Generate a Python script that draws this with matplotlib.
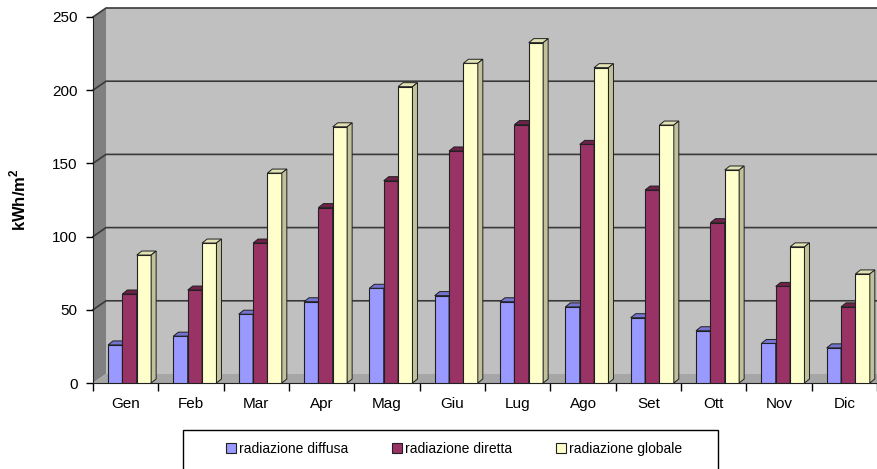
import matplotlib.pyplot as plt
from matplotlib.patches import Polygon, Rectangle, Patch

# dati mensili (kWh/m2)
mesi = ['Gen', 'Feb', 'Mar', 'Apr', 'Mag', 'Giu', 'Lug', 'Ago', 'Set', 'Ott', 'Nov', 'Dic']
diffusa = [26, 32, 47, 55.5, 64.7, 59.7, 55.5, 52, 44.6, 35.7, 27, 24]
diretta = [60.8, 63.5, 95.6, 119.8, 138.2, 158.5, 176.5, 163, 131.8, 109.5, 66, 52]
globale = [87.4, 95.6, 143.4, 175, 202.4, 218.4, 232.5, 215.4, 176.2, 145.5, 93, 74.5]
nomi = ['radiazione diffusa', 'radiazione diretta', 'radiazione globale']

plt.rcParams['font.family'] = ['Liberation Sans', 'DejaVu Sans']
plt.rcParams['mathtext.fontset'] = 'custom'
plt.rcParams['mathtext.bf'] = 'Liberation Sans:bold'

W, H = 878, 469
fig = plt.figure(figsize=(W / 100, H / 100), dpi=100)
ax = fig.add_axes([93 / W, (H - 383) / H, (877 - 93) / W, (383 - 17) / H])
ax.set_xlim(0, 12)
ax.set_ylim(0, 250)

ux = 12 / (877 - 93)   # unita' dati per pixel
uy = 250 / (383 - 17)
dx, dy = 13 * ux, 9 * uy      # profondita' pareti
bdx, bdy = 5 * ux, 4 * uy     # profondita' barre

# pareti e pavimento
ax.add_patch(Rectangle((dx, dy), 12, 250, facecolor='#c0c0c0', edgecolor='none',
                       clip_on=False, zorder=0))
ax.add_patch(Polygon([(0, 0), (dx, dy), (dx, 250 + dy), (0, 250)], closed=True,
                     facecolor='#808080', edgecolor='none', clip_on=False, zorder=0.2))
ax.add_patch(Polygon([(0, 0), (12, 0), (12 + dx, dy), (dx, dy)], closed=True,
                     facecolor='#a6a6a6', edgecolor='none', clip_on=False, zorder=0.3))
for v in range(50, 251, 50):
    ax.plot([0, dx, 12 + dx], [v, v + dy, v + dy], color='#3a3a3a', lw=1.2,
            clip_on=False, zorder=0.5)

serie = [diffusa, diretta, globale]
fronte = ['#9999ff', '#993366', '#ffffcc']
sopra = ['#7474d0', '#6e2249', '#e2e2b4']
lato = ['#6666b0', '#5e1d3e', '#c0c09a']

bw = 0.22
off = 0.23
for k, vals in enumerate(serie):
    xs = [i + off + k * bw for i in range(12)]
    bars = ax.bar(xs, vals, width=bw, align='edge', color=fronte[k],
                  edgecolor='#202020', lw=0.8, zorder=3 + k)
    for r in bars:
        x0, v = r.get_x(), r.get_height()
        ax.add_patch(Polygon([(x0, v), (x0 + bw, v), (x0 + bw + bdx, v + bdy), (x0 + bdx, v + bdy)],
                             closed=True, facecolor=sopra[k], edgecolor='#202020', lw=0.7,
                             clip_on=False, zorder=3.5 + k))
        ax.add_patch(Polygon([(x0 + bw, 0), (x0 + bw + bdx, bdy), (x0 + bw + bdx, v + bdy), (x0 + bw, v)],
                             closed=True, facecolor=lato[k], edgecolor='#202020', lw=0.7,
                             clip_on=False, zorder=3.5 + k))

# assi
for s in ['top', 'right']:
    ax.spines[s].set_visible(False)
ax.spines['left'].set_bounds(0, 250)
ax.spines['left'].set_color('#202020')
ax.spines['bottom'].set_color('#202020')
ax.spines['left'].set_zorder(10)
ax.set_yticks(range(0, 251, 50))
ax.tick_params(axis='y', direction='out', length=5, width=1, labelsize=11, pad=6)
ax.set_xticks(range(13))
ax.set_xticklabels([''] * 13)
ax.set_xticks([i + 0.5 for i in range(12)], minor=True)
ax.set_xticklabels(mesi, minor=True)
ax.tick_params(axis='x', which='major', direction='out', length=6, width=1)
ax.tick_params(axis='x', which='minor', length=0, labelsize=11, pad=10)

fig.text(18 / W, (H - 200) / H, r'kWh/m$^{\mathbf{2}}$', rotation=90, ha='center', va='center',
         fontsize=12, fontweight='bold')

# legenda
fig.patches.append(Rectangle((183 / W, -6 / H), 535 / W, 45 / H,
                             transform=fig.transFigure, fill=False, edgecolor='black', lw=1))
handles = [Patch(facecolor=fronte[k], edgecolor='#202020', lw=0.8) for k in range(3)]
fig.legend(handles, nomi, loc='center', bbox_to_anchor=(454 / W, (H - 449) / H), ncol=3,
           frameon=False, fontsize=10, handlelength=0.7, handleheight=0.7,
           handletextpad=0.2, columnspacing=3.2)

fig.savefig('out.png', dpi=100)
